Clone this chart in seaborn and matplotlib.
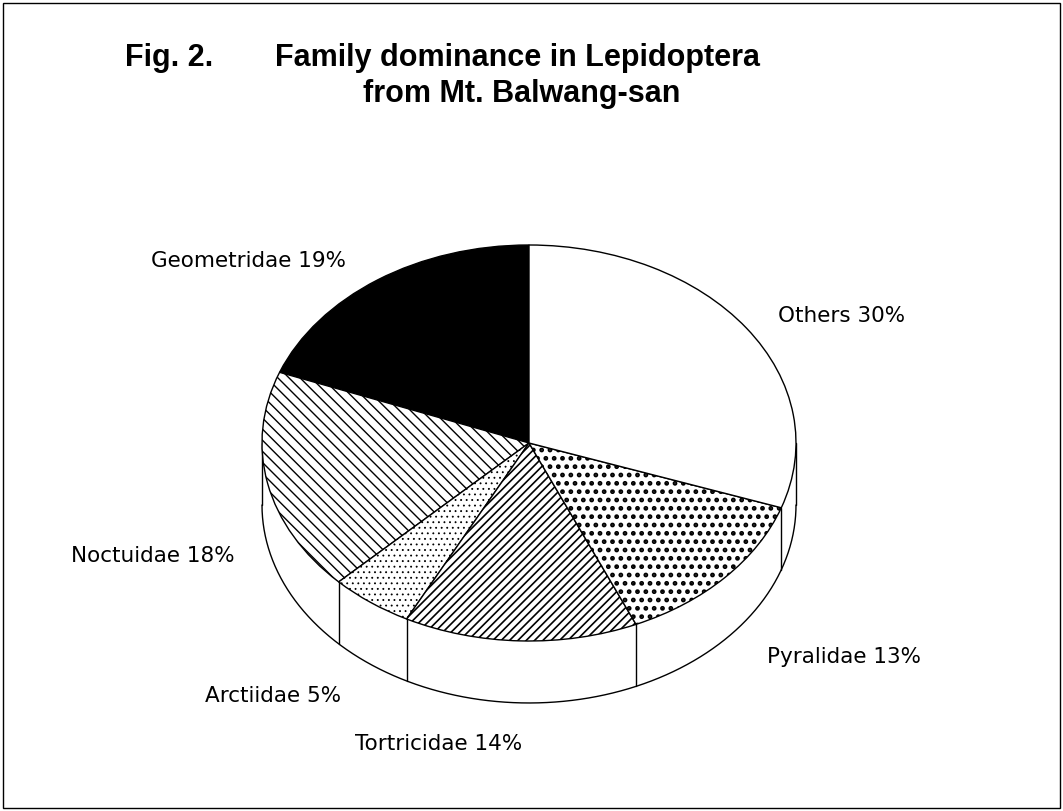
import numpy as np
import matplotlib.pyplot as plt
import seaborn as sns
from matplotlib.patches import Rectangle

# Data
families = ["Geometridae", "Noctuidae", "Arctiidae", "Tortricidae", "Pyralidae", "Others"]
percent = [19, 18, 5, 14, 13, 30]

# Styles per slice (old b/w print look)
colors = ["black", "white", "white", "white", "white", "white"]
hatches = [None, "\\\\\\", "...", "////", "..", None]
hatch_lw = [1.0, 1.0, 0.6, 1.2, 2.2, 1.0]

# label positions (data units, unit circle = top face of pie)
label_pos = [(-1.05, 0.92), (-1.41, -0.57), (-0.96, -1.28),
             (-0.34, -1.52), (1.18, -1.08), (1.17, 0.64)]

sns.set_theme(style="white")
plt.rcParams["font.family"] = ["DejaVu Sans"]

W, H = 1063, 811
fig = plt.figure(figsize=(W / 100, H / 100), dpi=100)
fig.patch.set_facecolor("white")

# outer frame
fig.add_artist(Rectangle((3 / W, 3 / H), 1 - 6 / W, 1 - 6 / H, transform=fig.transFigure,
                         fill=False, edgecolor="black", linewidth=1))

# title
title_font = dict(family="Liberation Sans", fontsize=22, fontweight="bold",
                  color="black", va="center", ha="left")
fig.text(125 / W, 1 - 58 / H, "Fig. 2.", **title_font)
fig.text(275 / W, 1 - 58 / H, "Family dominance in Lepidoptera", **title_font)
fig.text(363 / W, 1 - 94 / H, "from Mt. Balwang-san", **title_font)

# axes so that the unit circle becomes a flattened ellipse (tilted pie)
cx, cy, rx, ry = 529, 443, 267, 198
xlim = (-1.6, 1.6)
ylim = (-1.6, 1.3)
ax = fig.add_axes([(cx + rx * xlim[0]) / W, (H - (cy - ry * ylim[0])) / H,
                   rx * (xlim[1] - xlim[0]) / W, ry * (ylim[1] - ylim[0]) / H])

depth = 0.313

# side wall of the front half
t = np.linspace(np.pi, 2 * np.pi, 400)
ax.fill_between(np.cos(t), np.sin(t) - depth, np.sin(t), color="white", zorder=1)
ax.plot(np.cos(t), np.sin(t) - depth, color="black", lw=1, zorder=2)

total = sum(percent)
bounds = 90 + 360 * np.cumsum(percent) / total
edges = [180, 360] + [b % 360 for b in bounds if 180 < b % 360 < 360]
for a in edges:
    r = np.deg2rad(a)
    ax.plot([np.cos(r), np.cos(r)], [np.sin(r), np.sin(r) - depth], color="black", lw=1, zorder=2)

# top face
wedges, _ = ax.pie(percent, startangle=90, counterclock=True, colors=colors,
                   wedgeprops=dict(edgecolor="black", linewidth=1))
for w, h, lw in zip(wedges, hatches, hatch_lw):
    w.set_zorder(3)
    if h:
        w.set_hatch(h)
        if hasattr(w, "set_hatch_linewidth"):
            w.set_hatch_linewidth(lw)

ax.set_aspect("auto")
ax.set_xlim(*xlim)
ax.set_ylim(*ylim)
ax.axis("off")

for name, p, (x, y) in zip(families, percent, label_pos):
    ax.text(x, y, f"{name} {p}%", ha="center", va="center", fontsize=15.5, color="black")

fig.savefig("out.png", dpi=100, facecolor="white")
